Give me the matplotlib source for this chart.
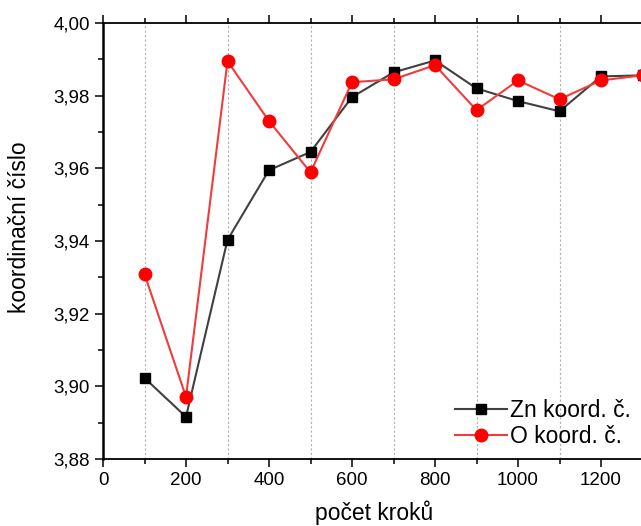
import matplotlib
matplotlib.use("Agg")
import matplotlib.pyplot as plt
from matplotlib.ticker import MultipleLocator, FuncFormatter, FixedLocator

plt.rcParams['font.family'] = ['Liberation Sans', 'DejaVu Sans']

steps = [100, 200, 300, 400, 500, 600, 700, 800, 900, 1000, 1100, 1200, 1300]
zn_coord = [3.9023, 3.8916, 3.9403, 3.9595, 3.9645, 3.9796, 3.9864, 3.9897,
            3.9820, 3.9785, 3.9757, 3.9853, 3.9856]
o_coord = [3.9309, 3.8971, 3.9895, 3.9730, 3.9589, 3.9837, 3.9845, 3.9884,
           3.9760, 3.9842, 3.9790, 3.9842, 3.9856]

fig = plt.figure(figsize=(6.41, 5.26), dpi=100)
# axes run past the right edge of the figure, as in the original export
ax = fig.add_axes([103 / 641, (526 - 459) / 526, 581 / 641, 436 / 526])

ax.plot(steps, zn_coord, color='#404040', lw=1.5, marker='s', ms=7.5,
        mfc='black', mec='black', label='Zn koord. č.')
ax.plot(steps, o_coord, color='#f03c3c', lw=1.5, marker='o', ms=9,
        mfc='red', mec='red', label='O koord. č.')

ax.set_xlim(0, 1400)
ax.set_ylim(3.88, 4.00)
ax.xaxis.set_major_locator(FixedLocator(range(0, 1300, 200)))
ax.xaxis.set_minor_locator(MultipleLocator(100))
ax.yaxis.set_major_locator(MultipleLocator(0.02))
ax.yaxis.set_minor_locator(MultipleLocator(0.01))
ax.yaxis.set_major_formatter(FuncFormatter(lambda v, _: ('%.2f' % v).replace('.', ',')))

# dotted grid on the odd hundreds
for xv in [100, 300, 500, 700, 900, 1100]:
    ax.axvline(xv, color='#b0b0b0', ls=(0, (2, 2)), lw=0.8, zorder=0)

ax.tick_params(which='both', direction='out', top=True, labelsize=13.5, width=1.1)
ax.tick_params(which='major', length=6)
ax.tick_params(which='minor', length=3.5)
ax.spines['right'].set_visible(False)
ax.spines['left'].set_linewidth(1.8)
ax.spines['bottom'].set_linewidth(1.3)
ax.spines['top'].set_linewidth(1.3)

ax.set_xlabel('počet kroků', fontsize=16.5)
ax.xaxis.set_label_coords(0.466, -0.094)
ax.set_ylabel('koordinační číslo', fontsize=16.5)
ax.yaxis.set_label_coords(-0.124, 0.532)

leg = ax.legend(loc='lower left', bbox_to_anchor=(0.606, 0.025), frameon=False,
                fontsize=16.5, handlelength=2.25, handletextpad=0.15, labelspacing=0.15,
                borderaxespad=0, borderpad=0)

fig.savefig('out.png', dpi=100)
